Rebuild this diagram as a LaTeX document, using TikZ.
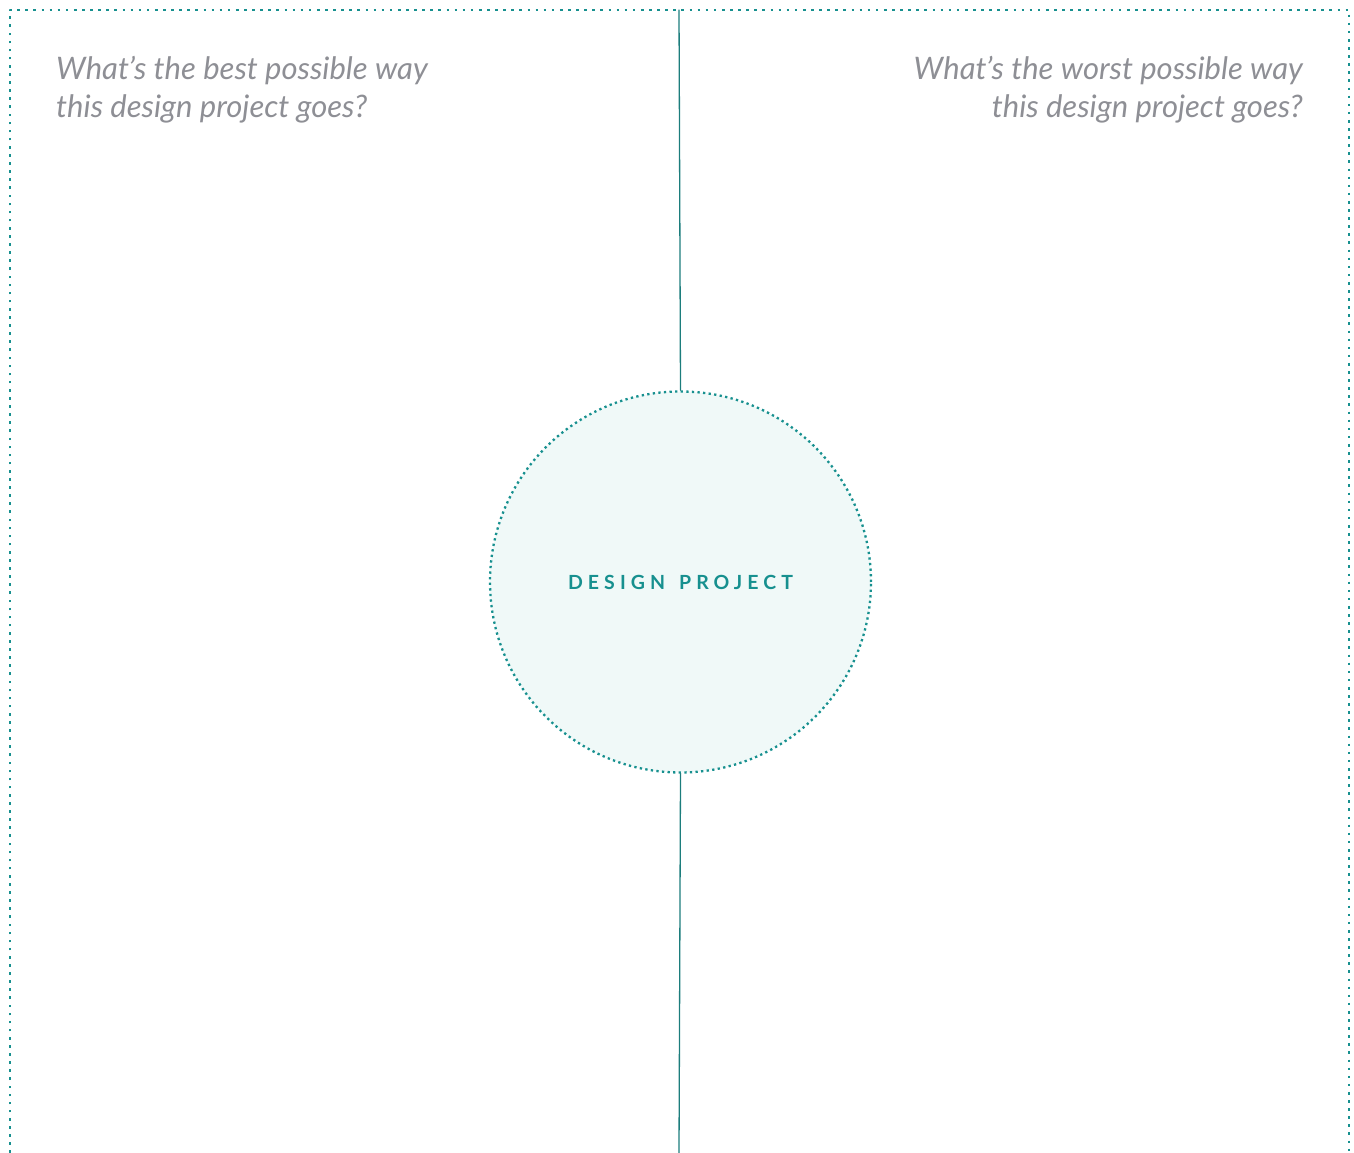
\documentclass[tikz,border=0pt]{standalone}
\usepackage{fontspec}
\setmainfont{Lato}
\begin{document}
\begin{tikzpicture}[x=1pt, y=1pt, line cap=round, line join=round]
\definecolor{dpteal}{HTML}{17908F}
\definecolor{dpline}{HTML}{1C7D7C}
\definecolor{dpgray}{HTML}{8E8F95}
\definecolor{dpfill}{HTML}{F0F9F8}
\tikzset{
  dpdots/.style={dpteal, line width=2.6pt, line cap=butt, dash pattern=on 2.6pt off 5.5pt},
  dpask/.style={font=\fontsize{31}{38}\selectfont\itshape, dpgray, inner sep=0pt},
  dphub/.style={circle, minimum size=381pt, inner sep=0pt, fill=dpfill,
    draw=dpteal, line width=2.3pt, line cap=butt, dash pattern=on 2.3pt off 3.3pt,
    font=\fontsize{19.5}{22}\selectfont\bfseries\addfontfeatures{LetterSpace=26}, text=dpteal, text depth=0pt}
}
\useasboundingbox (0,0) rectangle (1354,1153);
% ---- open frame (no bottom edge) ----
\coordinate (fbl) at (10,0);
\coordinate (ftl) at (10,1143);
\coordinate (ftr) at (1349,1143);
\coordinate (fbr) at (1349,0);
\draw[dpdots] (fbl) -- (ftl) -- (ftr) -- (fbr);
% ---- centre hub and divider ----
\node[dphub] (proj) at (680.5,571) {DESIGN\kern14pt PROJECT};
\coordinate (dtop) at (679,1143);
\coordinate (dbot) at (679,0);
\draw[dpline, line width=1.3pt] (dtop) -- (proj.north);
\draw[dpline, line width=1.3pt] (proj.south) -- (dbot);
% ---- prompts ----
\node[dpask, anchor=base west, align=left] (best) at (56,1035) {What’s the best possible way\\this design project goes?};
\node[dpask, anchor=base east, align=right] (worst) at (1303,1035) {What’s the worst possible way\\this design project goes?};
\end{tikzpicture}
\end{document}
